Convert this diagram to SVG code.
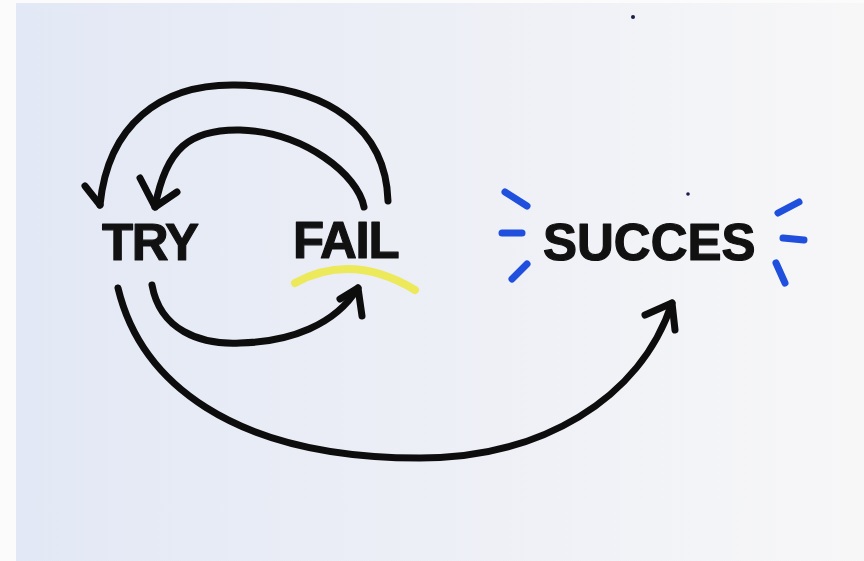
<svg xmlns="http://www.w3.org/2000/svg" width="864" height="561" viewBox="0 0 864 561">
  <defs>
    <linearGradient id="bg" x1="16" y1="0" x2="864" y2="0" gradientUnits="userSpaceOnUse">
      <stop offset="0" stop-color="#e2e8f5"/>
      <stop offset="0.5" stop-color="#edeff6"/>
      <stop offset="1" stop-color="#f7f7f8"/>
    </linearGradient>
    <style>
      .lbl { font-family: "Liberation Sans", Arial, sans-serif; font-weight: 700; font-size: 51px; fill: #111111; stroke: #111111; stroke-width: 1.2; stroke-linejoin: round; }
      .arrow { fill: none; stroke: #0d0d0d; stroke-width: 7; stroke-linecap: round; stroke-linejoin: round; }
      .ray { fill: none; stroke: #1f4fdc; stroke-width: 7; stroke-linecap: round; }
      .hl { fill: none; stroke: #ece84a; stroke-width: 8; stroke-linecap: round; opacity: 0.9; }
      .dot { fill: #1a1d4a; }
    </style>
  </defs>
  <rect x="0" y="0" width="864" height="561" fill="#fbfbfb"/>
  <rect x="16" y="3" width="848" height="558" fill="url(#bg)"/>

  <g id="connectors">
    <path class="arrow" d="M388,201 C386,130 330,86 235,85 C160,84 108,125 100,205"/>
    <path class="arrow" d="M85,186 L100,205"/>
    <path class="arrow" d="M364,207 C358,175 305,132 240,130 C190,129 166,148 155,207"/>
    <path class="arrow" d="M140,178 L155,207 L177,192"/>
    <path class="arrow" d="M152,285 C160,330 200,345 240,343 C290,342 335,325 358,288"/>
    <path class="arrow" d="M340,299 L358,288 L362,316"/>
    <path class="arrow" d="M118,288 C140,380 230,458 420,458 C540,458 640,400 672,303"/>
    <path class="arrow" d="M645,315 L672,303 L675,330"/>
  </g>

  <g id="node-try">
    <text class="lbl" x="102" y="260" letter-spacing="-1.5">TRY</text>
  </g>

  <g id="node-fail">
    <path class="hl" d="M295,283 Q352,252 415,290"/>
    <text class="lbl" x="293" y="258" letter-spacing="-1.3">FAIL</text>
  </g>

  <g id="node-succes">
    <text class="lbl" x="543" y="260">SUCCES</text>
    <path class="ray" d="M505,192 L527,206"/>
    <path class="ray" d="M502,233 L522,233"/>
    <path class="ray" d="M512,279 L527,264"/>
    <path class="ray" d="M778,213 L799,202"/>
    <path class="ray" d="M783,238 L804,240"/>
    <path class="ray" d="M776,263 L785,283"/>
  </g>

  <circle class="dot" cx="633" cy="17" r="2"/>
  <circle class="dot" cx="688" cy="194" r="1.8"/>
</svg>
